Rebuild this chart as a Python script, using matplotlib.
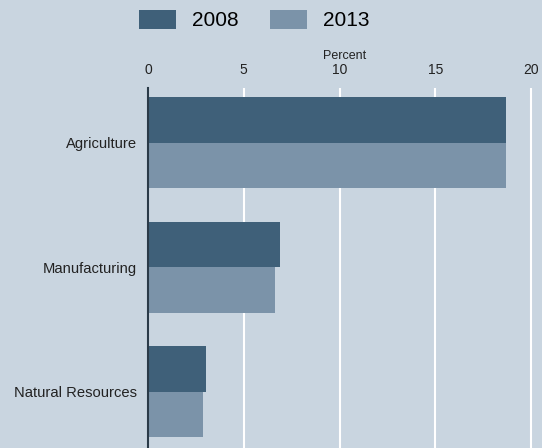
import matplotlib
matplotlib.use("Agg")
import matplotlib.pyplot as plt
import numpy as np

categories = ["Agriculture", "Manufacturing", "Natural Resources"]
series_names = ["2008", "2013"]
values_2008 = [18.7, 6.9, 3.05]
values_2013 = [18.7, 6.65, 2.87]
x_ticks = [0, 5, 10, 15, 20]
x_label = "Percent"

bg = "#c9d5e0"
c2008 = "#3f6079"
c2013 = "#7b93a9"

plt.rcParams['font.family'] = ['Liberation Sans', 'DejaVu Sans']

fig = plt.figure(figsize=(5.42, 4.48), dpi=100, facecolor=bg)
ax = fig.add_axes([148/542, 0.0, 1 - 148/542, 1 - 88/448])
ax.set_facecolor(bg)

y = np.arange(len(categories))
h = 0.365
b1 = ax.barh(y - h/2, values_2008, height=h, color=c2008, label=series_names[0], zorder=3)
b2 = ax.barh(y + h/2, values_2013, height=h, color=c2013, label=series_names[1], zorder=3)

ax.set_xlim(0, 20.57)
ax.set_ylim(2.45, -0.44)
ax.set_yticks(y)
ax.set_yticklabels(categories, fontsize=10.6, color="#222222")
ax.set_xticks(x_ticks)
ax.set_xticklabels([str(t) for t in x_ticks], fontsize=10, color="#222222")
ax.xaxis.tick_top()
ax.xaxis.set_label_position("top")
ax.set_xlabel(x_label, fontsize=9, color="#222222", labelpad=3)
ax.tick_params(axis="x", length=0, pad=8)
ax.tick_params(axis="y", length=0, pad=8)
ax.grid(axis="x", color="white", linewidth=1.5, zorder=1)
ax.set_axisbelow(True)
for s in ["top", "right", "bottom"]:
    ax.spines[s].set_visible(False)
ax.spines["left"].set_color("#2a3a48")
ax.spines["left"].set_linewidth(1.5)
ax.spines["left"].set_zorder(4)

fig.legend(handles=[b1, b2], labels=series_names, loc="center",
           bbox_to_anchor=(254/542, 1 - 20/448), ncol=2, frameon=False,
           fontsize=15, handlelength=1.8, handleheight=1.05,
           handletextpad=0.75, columnspacing=1.5)

fig.savefig("out.png", dpi=100, facecolor=bg)
